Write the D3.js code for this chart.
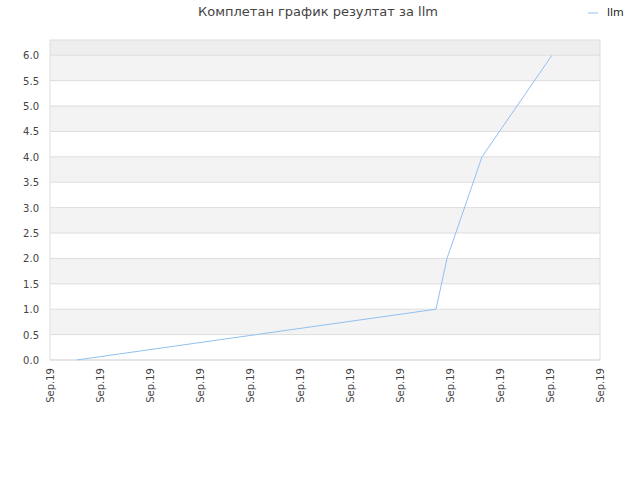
<!DOCTYPE html><html><head><meta charset="utf-8"><script src="https://cdn.jsdelivr.net/npm/d3@7"></script>
<style>body{margin:0;background:#fff}text{font-family:"DejaVu Sans",sans-serif}</style></head><body><svg width="640" height="480"></svg><script>
const title="Комплетан график резултат за llm";
const seriesName="llm";
const tickLabels=["Sep.19","Sep.19","Sep.19","Sep.19","Sep.19","Sep.19","Sep.19","Sep.19","Sep.19","Sep.19","Sep.19","Sep.19"];
const xs=[0.53,7.72,7.94,8.64,10.04];
const ys=[0,1,2,4,6];
const svg=d3.select("svg");
const L=50,R=600,T=40,B=360;
const x=d3.scaleLinear().domain([0,11]).range([L,R]);
const y=d3.scaleLinear().domain([0,6.3]).range([B,T]);
svg.append("rect").attr("x",L).attr("y",T).attr("width",R-L).attr("height",y(6)-T).attr("fill","#eeeeee");
for(let i=0;i<12;i++){const a=i*0.5,b=a+0.5;svg.append("rect").attr("x",L).attr("y",y(b)).attr("width",R-L).attr("height",y(a)-y(b)).attr("fill",i%2?"#f3f3f3":"#ffffff");}
const yt=d3.range(0,6.01,0.5);
svg.selectAll(".g").data(yt).enter().append("line").attr("x1",L).attr("x2",R).attr("y1",d=>y(d)).attr("y2",d=>y(d)).attr("stroke","#dddddd");
svg.append("rect").attr("x",L).attr("y",T).attr("width",R-L).attr("height",B-T).attr("fill","none").attr("stroke","#dddddd");
svg.selectAll(".yl").data(yt).enter().append("text").attr("x",L-11).attr("y",d=>y(d)+4).attr("text-anchor","end").attr("font-size",10).attr("fill","#444").text(d=>d.toFixed(1));
tickLabels.forEach((t,i)=>svg.append("text").attr("transform",`translate(${x(i)+4},${B+8}) rotate(-90)`).attr("text-anchor","end").attr("font-size",10).attr("fill","#444").text(t));
svg.append("path").datum(xs.map((v,i)=>[v,ys[i]])).attr("d",d3.line().x(d=>x(d[0])).y(d=>y(d[1]))).attr("fill","none").attr("stroke","#90c0f0").attr("stroke-width",1);
svg.append("text").attr("x",318).attr("y",16).attr("text-anchor","middle").attr("font-size",13).attr("fill","#444").text(title);
svg.append("line").attr("x1",588).attr("x2",598).attr("y1",13).attr("y2",13).attr("stroke","#90c0f0");
svg.append("text").attr("x",607).attr("y",16).attr("font-size",11).attr("fill","#222").text(seriesName);
</script></body></html>
